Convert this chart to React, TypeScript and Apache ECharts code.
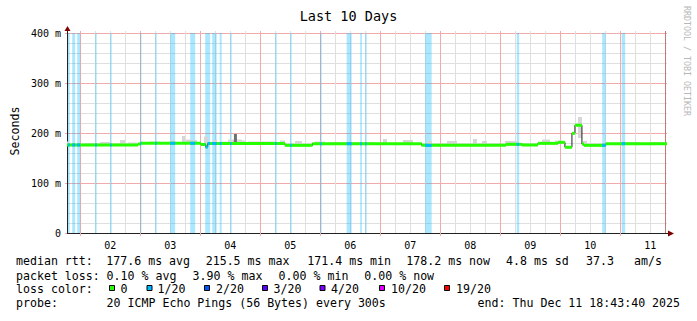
import React, { useEffect, useRef } from 'react';
import * as echarts from 'echarts';

const MONO = '"DejaVu Sans Mono", monospace';

// time axis: hours since Dec 1 00:00
const START_H = 18 + 43 / 60 + 40 / 3600; // Dec 1 18:43:40
const END_H = START_H + 240; // Dec 11 18:43:40

const titleText = 'Last 10 Days';
const yAxisTitle = 'Seconds';
const watermark = 'RRDTOOL / TOBI OETIKER';

const dayLabels = ['02', '03', '04', '05', '06', '07', '08', '09', '10', '11'];
const dayNoonHours = [36, 60, 84, 108, 132, 156, 180, 204, 228, 252];
const yTickValues = [0, 100, 200, 300, 400];
const yTickLabels = ['0', '100 m', '200 m', '300 m', '400 m'];
const endRuleHours = [258];

// median RTT (ms) as steps: [start hour, value]
const medianSteps: [number, number][] = [
  [START_H, 176], [47.1, 178], [48.3, 179.5], [72.3, 177], [74.2, 172], [75.0, 179],
  [105.9, 175.3], [116.9, 178.7], [160.6, 175.3], [194.3, 177.3], [200.7, 176],
  [207.1, 179.3], [215.1, 181.3], [217.9, 171.5], [220.7, 199.3], [221.9, 215.5],
  [224.7, 178], [225.5, 175.3], [234.3, 178.7],
];

// periods with 1/20 packet loss: [start hour, end hour]
const lossBands: [number, number][] = [
  [19.1, 19.8], [20.8, 22.0], [22.8, 24.0], [30.0, 30.6], [36.0, 36.6], [48.0, 48.5],
  [54.0, 54.6], [60.0, 62.0], [68.0, 70.0], [74.0, 76.0], [76.8, 78.6], [79.8, 80.6],
  [84.0, 84.6], [102.0, 102.6], [108.0, 108.6], [120.0, 120.6], [130.6, 132.6],
  [136.0, 136.7], [138.0, 138.6], [162.0, 164.6], [198.6, 199.6], [232.8, 234.2],
  [240.6, 242.0],
];

// smoke (ping spread): [start hour, end hour, low ms, high ms]
const smokeLight: [number, number, number, number][] = [
  [18.7, 19.5, 176, 183], [25.9, 29.9, 176, 180], [31.9, 35.9, 176, 182],
  [39.9, 41.9, 176, 186], [43.1, 46.7, 176, 181], [51.9, 55.9, 178, 183],
  [59.9, 61.9, 178, 185], [64.7, 65.9, 178, 194], [66.3, 68.7, 178, 187],
  [69.1, 70.7, 178, 186], [73.5, 75.1, 174, 193], [77.1, 78.7, 178, 186],
  [80.7, 83.1, 178, 183], [83.1, 88.7, 178, 187], [88.7, 89.9, 178, 185],
  [91.1, 101.9, 176, 183], [103.9, 105.9, 176, 185], [109.9, 112.7, 176, 184],
  [117.9, 121.9, 177, 183], [123.9, 141.9, 177, 182], [145.1, 146.7, 177, 188],
  [153.1, 157.1, 177, 186], [163.1, 164.7, 174, 184], [170.7, 174.7, 174, 184],
  [181.1, 182.7, 174, 188], [184.7, 186.7, 174, 184], [193.9, 198.7, 175, 184],
  [208.7, 211.9, 177, 187], [213.9, 216.7, 179, 185], [223.1, 224.7, 190, 232],
  [225.1, 226.7, 174, 184], [239.9, 247.9, 177, 182], [251.9, 257.9, 177, 182],
];
const smokeDark: [number, number, number, number][] = [
  [85.5, 86.7, 181, 198],
];

const lossLegendLabels = ['0', '1/20', '2/20', '3/20', '4/20', '10/20', '19/20'];
const lossLegendColors = ['#26ff00', '#00b8ff', '#0059ff', '#5e00ff', '#7e00ff', '#dd00ff', '#ff0000'];

const rttLabel = 'median rtt:';
const rttStats = ['177.6 ms avg', '215.5 ms max', '171.4 ms min', '178.2 ms now', '4.8 ms sd', '37.3', 'am/s'];
const lossLabel = 'packet loss:';
const lossStats = ['0.10 % avg', '3.90 % max', '0.00 % min', '0.00 % now'];
const colorLabel = 'loss color:';
const probeLabel = 'probe:';
const probeText = '20 ICMP Echo Pings (56 Bytes) every 300s';
const endText = 'end: Thu Dec 11 18:43:40 2025';

// layout (pixels)
const rttX = [106.3, 205.7, 307.3, 406.3, 506, 586, 634];
const lossX = [106.6, 192.6, 278.6, 364.3];
const swatchX = [109, 146.5, 204, 262, 319.5, 379, 444];
const swatchLabelX = [120.5, 157.5, 216, 273.5, 331, 391, 456];
const rowY = [261, 275.5, 289, 303];

const GREEN = '#26ff00';
const LOSS1 = '#00b8ff';
const RED_GRID = '#f2abab';
const GRAY_GRID = '#dfdfdf';

function buildSegments(): [number, number, number][] {
  return medianSteps.map((s, i) => [s[0], i + 1 < medianSteps.length ? medianSteps[i + 1][0] : END_H, s[1]]);
}

export default function App() {
  const ref = useRef<HTMLDivElement>(null);
  useEffect(() => {
    document.body.style.margin = '0';
    const chart = echarts.init(ref.current!, undefined, { renderer: 'svg' });
    const segments = buildSegments();
    const medianPath: [number, number][] = [];
    segments.forEach((s) => { medianPath.push([s[0], s[2]]); medianPath.push([s[1], s[2]]); });
    const lossParts: [number, number, number][] = [];
    lossBands.forEach((b) => {
      segments.forEach((s) => {
        const a = Math.max(b[0], s[0]);
        const e = Math.min(b[1], s[1]);
        if (e > a) lossParts.push([a, e, s[2]]);
      });
    });
    const gridHours: number[] = [];
    for (let h = 24; h <= 258; h += 6) gridHours.push(h);

    const txt = (text: string, x: number, y: number, size: number, extra: any = {}) => ({
      type: 'text', x, y, silent: true, ...extra,
      style: {
        text, font: `${size}px ${MONO}`, fill: extra.fill || '#000',
        textAlign: extra.align || 'left', align: extra.align || 'left',
        textVerticalAlign: 'middle', verticalAlign: 'middle',
      },
    });

    const graphics: any[] = [
      txt(titleText, 348.5, 16, 13.5, { align: 'center' }),
      txt(yAxisTitle, 15, 131, 11.6, { align: 'center', rotation: Math.PI / 2 }),
      txt(watermark, 687, 6, 8.3, { rotation: -Math.PI / 2, fill: '#b8b8b8' }),
      txt(rttLabel, 16, rowY[0], 11.6),
      ...rttStats.map((t, i) => txt(t, rttX[i], rowY[0], 11.6)),
      txt(lossLabel, 16, rowY[1], 11.6),
      ...lossStats.map((t, i) => txt(t, lossX[i], rowY[1], 11.6)),
      txt(colorLabel, 16, rowY[2], 11.6),
      ...lossLegendLabels.map((t, i) => txt(t, swatchLabelX[i], rowY[2], 11.6)),
      ...lossLegendColors.map((c, i) => ({
        type: 'rect', silent: true,
        shape: { x: swatchX[i] + 0.5, y: 285.5, width: 5, height: 5 },
        style: { fill: c, stroke: '#000', lineWidth: 1 },
      })),
      txt(probeLabel, 16, rowY[3], 11.6),
      txt(probeText, 106.6, rowY[3], 11.6),
      txt(endText, 477.6, rowY[3], 11.6),
      // axis extensions and arrows
      { type: 'line', silent: true, shape: { x1: 67.5, y1: 33, x2: 67.5, y2: 29 }, style: { stroke: '#222', lineWidth: 1 } },
      { type: 'polygon', silent: true, shape: { points: [[64.5, 31], [70.5, 31], [67.5, 26]] }, style: { fill: '#7f0000' } },
      { type: 'line', silent: true, shape: { x1: 667, y1: 233.5, x2: 669, y2: 233.5 }, style: { stroke: '#222', lineWidth: 1 } },
      { type: 'polygon', silent: true, shape: { points: [[668, 230.5], [668, 236.5], [674, 233.5]] }, style: { fill: '#7f0000' } },
    ];

    const rectRender = (fill: string) => (params: any, api: any) => {
      const p0 = api.coord([api.value(0), api.value(3)]);
      const p1 = api.coord([api.value(1), api.value(2)]);
      return { type: 'rect', shape: { x: p0[0], y: p0[1], width: p1[0] - p0[0], height: p1[1] - p0[1] }, style: { fill } };
    };
    const medRender = (fill: string) => (params: any, api: any) => {
      const p0 = api.coord([api.value(0), api.value(2)]);
      const p1 = api.coord([api.value(1), api.value(2)]);
      return { type: 'rect', shape: { x: p0[0], y: p0[1] - 1.5, width: p1[0] - p0[0], height: 3 }, style: { fill } };
    };

    const option: any = {
      animation: false,
      backgroundColor: '#ffffff',
      grid: { left: 67, top: 33, width: 600, height: 200, containLabel: false },
      xAxis: {
        type: 'value', min: START_H, max: END_H,
        splitLine: { show: false },
        axisLine: { show: true, onZero: false, lineStyle: { color: '#222', width: 1 } },
        axisTick: { show: false },
        axisLabel: {
          show: true, customValues: dayNoonHours,
          formatter: (v: number) => {
            const i = dayNoonHours.indexOf(Math.round(v));
            return i >= 0 ? dayLabels[i] : '';
          },
          fontFamily: MONO, fontSize: 10, color: '#000', margin: 7,
        },
      },
      yAxis: {
        type: 'value', min: 0, max: 400, interval: 100,
        axisLine: { show: true, onZero: false, lineStyle: { color: '#222', width: 1 } },
        axisTick: { show: true, length: 2, lineStyle: { color: RED_GRID } },
        axisLabel: {
          formatter: (v: number) => yTickLabels[yTickValues.indexOf(v)] ?? '',
          fontFamily: MONO, fontSize: 10, color: '#000', margin: 6,
        },
        splitLine: { show: true, lineStyle: { color: RED_GRID, width: 1 } },
        minorTick: { show: false, splitNumber: 5 },
        minorSplitLine: { show: true, lineStyle: { color: GRAY_GRID, width: 1 } },
      },
      series: [
        {
          type: 'custom', z: 1, silent: true, clip: false,
          data: gridHours.map((h) => [h, 0]),
          renderItem: (params: any, api: any) => {
            const h = api.value(0);
            const top = api.coord([h, 400]);
            const bot = api.coord([h, 0]);
            const x = Math.round(top[0]) + 0.5;
            const isDay = h % 24 === 0;
            const isEnd = endRuleHours.indexOf(h) >= 0;
            return {
              type: 'line',
              shape: { x1: x, y1: top[1] - 2, x2: x, y2: bot[1] + (isDay ? 3 : 0) },
              style: { stroke: isEnd ? '#c47878' : isDay ? RED_GRID : GRAY_GRID, lineWidth: 1 },
            };
          },
        },
        {
          type: 'custom', z: 2, silent: true,
          data: lossBands.map((b) => [b[0], b[1], 0, 400]),
          renderItem: rectRender('rgba(0,184,255,0.33)'),
        },
        { type: 'custom', z: 3, silent: true, data: smokeLight, renderItem: rectRender('#d6d6d6') },
        { type: 'custom', z: 3, silent: true, data: smokeDark, renderItem: rectRender('#707070') },
        {
          type: 'line', z: 4, silent: true, data: medianPath, symbol: 'none',
          lineStyle: { color: '#202020', width: 1 },
        },
        { type: 'custom', z: 5, silent: true, data: segments, renderItem: medRender(GREEN) },
        { type: 'custom', z: 6, silent: true, data: lossParts, renderItem: medRender(LOSS1) },
      ],
      graphic: { elements: graphics },
    };
    chart.setOption(option);
    return () => chart.dispose();
  }, []);
  return <div ref={ref} style={{ position: 'absolute', left: 0, top: 0, width: 697, height: 321 }} />;
}
